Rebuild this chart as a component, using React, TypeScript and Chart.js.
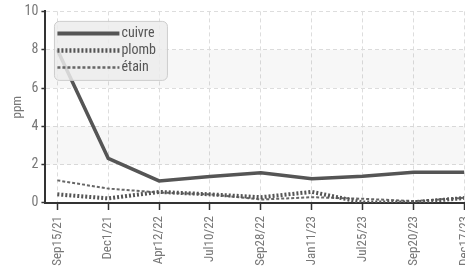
import React, { useEffect, useRef } from "react";
import { Chart, registerables } from "chart.js";

Chart.register(...registerables);

const categories = ["Sep15/21", "Dec1/21", "Apr12/22", "Jul10/22", "Sep28/22", "Jan11/23", "Jul25/23", "Sep20/23", "Dec17/23"];
const cuivre = [8.0, 2.33, 1.15, 1.38, 1.58, 1.27, 1.4, 1.6, 1.6];
const plomb = [0.45, 0.24, 0.58, 0.45, 0.3, 0.58, 0.03, 0.03, 0.26];
const etain = [1.18, 0.75, 0.55, 0.45, 0.18, 0.3, 0.22, 0.1, 0.27];
const yTicks = [0, 2, 4, 6, 8, 10];
const seriesNames = ["cuivre", "plomb", "étain"];

const FONT = "'Roboto Condensed', 'Liberation Sans Narrow', 'DejaVu Sans Condensed', sans-serif";

const bandsPlugin = {
  id: "bands",
  beforeDatasetsDraw(chart: any) {
    const { ctx, chartArea, scales } = chart;
    const y = scales.y;
    ctx.save();
    ctx.fillStyle = "rgba(0,0,0,0.03)";
    [[2, 4], [6, 8]].forEach(([a, b]) => {
      const y1 = y.getPixelForValue(b);
      const y2 = y.getPixelForValue(a);
      ctx.fillRect(chartArea.left, y1, chartArea.right - chartArea.left, y2 - y1);
    });
    ctx.restore();
  },
};

const legendPlugin = {
  id: "customLegend",
  afterDraw(chart: any) {
    const { ctx, chartArea } = chart;
    const x0 = chartArea.left + 9;
    const y0 = chartArea.top + 10;
    const w = 113;
    const h = 59;
    ctx.save();
    ctx.beginPath();
    (ctx as any).roundRect(x0, y0, w, h, 5);
    ctx.fillStyle = "rgba(236,236,236,0.85)";
    ctx.fill();
    ctx.strokeStyle = "rgba(200,200,200,0.9)";
    ctx.lineWidth = 1;
    ctx.stroke();
    const dsets = chart.data.datasets;
    dsets.forEach((ds: any, i: number) => {
      const ly = y0 + 12 + i * 17;
      ctx.beginPath();
      ctx.setLineDash(ds.borderDash || []);
      ctx.lineWidth = ds.borderWidth + 0.5;
      ctx.strokeStyle = ds.borderColor;
      ctx.moveTo(x0 + 3, ly);
      ctx.lineTo(x0 + 65, ly);
      ctx.stroke();
      ctx.setLineDash([]);
      ctx.fillStyle = "#555";
      ctx.font = "14px " + FONT;
      ctx.textBaseline = "middle";
      ctx.textAlign = "left";
      ctx.fillText(ds.label, x0 + 67, ly);
    });
    ctx.restore();
  },
};

export default function App() {
  const ref = useRef<HTMLCanvasElement>(null);
  useEffect(() => {
    const toXY = (arr: number[]) => arr.map((v, i) => ({ x: i, y: v }));
    const chart = new Chart(ref.current!, {
      type: "line",
      data: {
        datasets: [
          { label: seriesNames[0], data: toXY(cuivre), borderColor: "#555", borderWidth: 3.5, pointRadius: 0, tension: 0 },
          { label: seriesNames[1], data: toXY(plomb), borderColor: "#555", borderWidth: 4, borderDash: [2, 2], pointRadius: 0, tension: 0 },
          { label: seriesNames[2], data: toXY(etain), borderColor: "#666", borderWidth: 2, borderDash: [3, 2], pointRadius: 0, tension: 0 },
        ],
      },
      options: {
        responsive: false,
        animation: false,
        layout: { padding: { top: 4, left: 2, right: 0, bottom: -3 } },
        plugins: { legend: { display: false }, tooltip: { enabled: false } },
        scales: {
          x: {
            type: "linear",
            min: -0.234,
            max: 8,
            ticks: {
              stepSize: 1,
              includeBounds: false,
              autoSkip: false,
              maxRotation: 90,
              minRotation: 90,
              color: "#777",
              font: { family: FONT, size: 13 },
              padding: 6,
              callback: (v: any) => categories[v] ?? "",
            },
            grid: { color: "#ddd", tickColor: "#333", tickLength: 7, tickWidth: 1.5, drawTicks: true },
            border: { color: "#333", width: 2, dash: [4, 3] },
          },
          y: {
            min: 0,
            max: 10,
            afterBuildTicks(scale: any) {
              scale.ticks = yTicks.map((v) => ({ value: v }));
            },
            ticks: { color: "#777", font: { family: FONT, size: 14 }, padding: 3 },
            grid: { color: "#ddd", tickColor: "#333", tickLength: 4, tickWidth: 1.5 },
            border: { color: "#333", width: 2, dash: [4, 3] },
            title: { display: true, text: "ppm", color: "#777", font: { family: FONT, size: 13 }, padding: { top: 8, bottom: -4 } },
          },
        },
      },
      plugins: [bandsPlugin, legendPlugin],
    });
    return () => chart.destroy();
  }, []);
  return (
    <div style={{ position: "absolute", left: 0, top: 0, width: 465, height: 269, overflow: "hidden" }}>
      <canvas ref={ref} width={486} height={269} style={{ display: "block" }} />
    </div>
  );
}
